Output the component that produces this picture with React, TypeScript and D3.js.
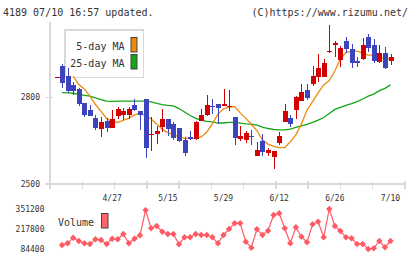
import React from 'react';
import * as d3 from 'd3';

// Daily prices (yen), oldest first
const openP = [2870, 2908, 2874, 2843, 2829, 2779, 2756, 2727, 2690, 2718, 2695, 2735, 2739, 2739, 2773, 2753, 2794, 2670, 2673, 2698, 2725, 2708, 2693, 2652, 2662, 2655, 2719, 2739, 2770, 2777, 2770, 2766, 2733, 2656, 2652, 2666, 2598, 2650, 2606, 2594, 2643, 2716, 2727, 2756, 2788, 2825, 2846, 2869, 2869, 2957, 2981, 2929, 2995, 2966, 2926, 2934, 3008, 2981, 2923, 2952, 2927];
const highP = [2871, 2914, 2902, 2854, 2831, 2779, 2773, 2739, 2733, 2728, 2756, 2767, 2763, 2765, 2794, 2753, 2794, 2733, 2701, 2760, 2725, 2713, 2693, 2662, 2683, 2718, 2760, 2808, 2794, 2777, 2829, 2825, 2733, 2701, 2683, 2687, 2644, 2673, 2624, 2614, 2679, 2777, 2739, 2804, 2846, 2845, 2908, 2950, 2931, 3050, 2996, 2977, 3010, 2984, 2938, 3004, 3019, 3002, 2981, 2973, 2950];
const lowP = [2870, 2833, 2816, 2808, 2771, 2733, 2736, 2687, 2664, 2681, 2693, 2725, 2721, 2725, 2754, 2687, 2591, 2614, 2638, 2681, 2667, 2652, 2644, 2598, 2652, 2652, 2719, 2735, 2742, 2707, 2770, 2754, 2635, 2650, 2641, 2635, 2598, 2598, 2598, 2552, 2635, 2716, 2698, 2725, 2788, 2791, 2840, 2854, 2869, 2952, 2938, 2906, 2952, 2902, 2904, 2929, 2956, 2918, 2918, 2898, 2912];
const closeP = [2871, 2850, 2823, 2823, 2776, 2739, 2736, 2693, 2716, 2693, 2725, 2760, 2754, 2760, 2756, 2739, 2624, 2672, 2683, 2725, 2689, 2658, 2650, 2608, 2655, 2716, 2739, 2773, 2765, 2764, 2777, 2770, 2660, 2666, 2675, 2662, 2618, 2610, 2618, 2614, 2666, 2754, 2707, 2800, 2819, 2799, 2874, 2900, 2918, 2960, 2988, 2971, 2966, 2918, 2919, 2981, 2972, 2927, 2952, 2902, 2938];

// Moving averages (yen)
const ma5 = [null, null, null, 2872, 2844, 2829, 2804, 2775, 2751, 2727, 2715, 2713, 2720, 2728, 2739, 2745, 2737, 2725, 2708, 2689, 2678, 2671, 2663, 2658, 2658, 2658, 2663, 2680, 2708, 2742, 2760, 2766, 2768, 2746, 2728, 2706, 2685, 2652, 2638, 2630, 2626, 2626, 2646, 2670, 2708, 2756, 2785, 2815, 2843, 2858, 2891, 2933, 2955, 2960, 2960, 2953, 2946, 2946, 2939, 2934, 2931];
const ma25 = [null, 2816, 2815, 2814, 2810, 2807, 2804, 2798, 2792, 2787, 2786, 2787, 2787, 2787, 2787, 2787, 2787, 2784, 2779, 2775, 2772, 2770, 2761, 2749, 2737, 2727, 2721, 2717, 2715, 2711, 2711, 2713, 2713, 2711, 2708, 2707, 2704, 2697, 2692, 2689, 2687, 2687, 2690, 2696, 2701, 2706, 2713, 2721, 2730, 2744, 2758, 2765, 2772, 2778, 2785, 2794, 2804, 2811, 2823, 2831, 2843];

// Daily volume (shares)
const volumes = [null, 111000, 122400, 159800, 137800, 122400, 117700, 149100, 144400, 117700, 153100, 149100, 184400, 122400, 153100, 175800, 344000, 222500, 237800, 199800, 184400, 184400, 115700, 162400, 162400, 184400, 177800, 177800, 162400, 122400, 177800, 217800, 255800, 255800, 133100, 93100, 215800, 177800, 206500, 311200, 322500, 222500, 122400, 229100, 166400, 129100, 249100, 266500, 162400, 351200, 237800, 204500, 162400, 155800, 117700, 117700, 84400, 89100, 137800, 95700, 137800];

// Date labels and the trading-day index (1-based) they sit under
const dateLabels = ['4/27', '5/15', '5/29', '6/12', '6/26', '7/10'];
const dateIndex = [11, 21, 31, 41, 51, 61];

const priceTicks = [2500, 2800];

const RED = '#d20000';
const BLUE = '#3b44bd';
const ORANGE = '#f08a0c';
const GREEN = '#16a516';
const VOL = '#ff5a64';
const AXIS = '#d9d9d9';
const TEXT = '#333';
const FONT = '"DejaVu Sans Mono", "Liberation Mono", monospace';

export default function App() {
  const n = closeP.length;
  const idx = d3.range(1, n + 1);

  const x = d3.scaleLinear().domain([1, n]).range([56.5, 390.5]);
  const y = d3.scaleLinear().domain([2500, 2800]).range([184, 97.3]);
  const vExt = d3.extent(volumes.filter((v) => v != null) as number[]) as [number, number];
  const vy = d3.scaleLinear().domain(vExt).range([249, 209]);
  const frame = d3.scaleLinear().domain([0, 11]).range([50, 405]);

  const maLine = d3
    .line<number | null>()
    .defined((d) => d != null)
    .x((_, i) => x(i + 1))
    .y((d) => y(d as number));

  const volLine = d3
    .line<number | null>()
    .defined((d) => d != null)
    .x((_, i) => x(i + 1))
    .y((d) => vy(d as number));

  const volTicks = [vExt[0], (vExt[0] + vExt[1]) / 2, vExt[1]];

  return (
    <svg
      width={420}
      height={259}
      style={{ position: 'absolute', left: 0, top: 0, background: '#fff' }}
      fontFamily={FONT}
    >
      <rect x={0} y={0} width={420} height={259} fill="#fff" />

      {/* header */}
      <text x={3} y={16} fontSize={10} fill={TEXT}>4189 07/10 16:57 updated.</text>
      <text x={408} y={16} fontSize={10} fill={TEXT} textAnchor="end">(C)https://www.rizumu.net/</text>

      {/* frame */}
      <g stroke={AXIS} strokeWidth={1.5} shapeRendering="crispEdges">
        <line x1={50} x2={50} y1={22} y2={184} />
        <line x1={50} x2={405} y1={184} y2={184} />
        {d3.range(12).map((k) => (
          <line key={k} x1={frame(k)} x2={frame(k)} y1={181} y2={189} />
        ))}
        {priceTicks.map((p) => (
          <line key={p} x1={45} x2={53} y1={y(p)} y2={y(p)} />
        ))}
      </g>
      {priceTicks.map((p) => (
        <text key={p} x={40} y={y(p)} dy="0.35em" fontSize={8} fill={TEXT} textAnchor="end">
          {p}
        </text>
      ))}
      {dateLabels.map((d, i) => (
        <text key={d} x={x(dateIndex[i])} y={201} fontSize={8} fill={TEXT} textAnchor="middle">
          {d}
        </text>
      ))}

      {/* MA legend box */}
      <rect x={65} y={30} width={78.3} height={47.3} fill="#fff" stroke={AXIS} strokeWidth={1.5} shapeRendering="crispEdges" />
      <text x={124.5} y={46} dy="0.35em" fontSize={10} fill={TEXT} textAnchor="end">5-day MA</text>
      <text x={124.5} y={63} dy="0.35em" fontSize={10} fill={TEXT} textAnchor="end">25-day MA</text>
      <rect x={131} y={37.5} width={6} height={14.5} fill={ORANGE} stroke="#444" strokeWidth={1} />
      <rect x={131} y={54.5} width={6} height={14.5} fill={GREEN} stroke="#444" strokeWidth={1} />

      {/* moving averages */}
      <path d={maLine(ma25) || ''} fill="none" stroke={GREEN} strokeWidth={1.3} />
      <path d={maLine(ma5) || ''} fill="none" stroke={ORANGE} strokeWidth={1.3} />

      {/* candles */}
      <g shapeRendering="crispEdges">
        {idx.map((i) => {
          const o = openP[i - 1];
          const c = closeP[i - 1];
          const col = c >= o ? RED : BLUE;
          const top = y(Math.max(o, c));
          const bot = y(Math.min(o, c));
          const cx = Math.round(x(i));
          return (
            <g key={i}>
              <line x1={cx + 0.5} x2={cx + 0.5} y1={y(highP[i - 1])} y2={y(lowP[i - 1])} stroke={col} strokeWidth={1} />
              <rect x={cx - 2} y={top} width={5} height={Math.max(1, bot - top)} fill={col} />
            </g>
          );
        })}
      </g>

      {/* volume */}
      {volTicks.map((v) => (
        <text key={v} x={44.5} y={vy(v)} dy="0.35em" fontSize={8} fill={TEXT} textAnchor="end">
          {Math.round(v)}
        </text>
      ))}
      <text x={58} y={222} dy="0.35em" fontSize={10} fill={TEXT}>Volume</text>
      <rect x={101.5} y={213.5} width={6.5} height={14.5} fill="#ff6468" stroke="#444" strokeWidth={1} />
      <path d={volLine(volumes) || ''} fill="none" stroke={VOL} strokeWidth={1.2} />
      {idx.map((i) =>
        volumes[i - 1] == null ? null : (
          <path
            key={i}
            transform={`translate(${x(i)},${vy(volumes[i - 1] as number)})`}
            d="M0,-3.2L3.2,0L0,3.2L-3.2,0Z"
            fill={VOL}
          />
        )
      )}
    </svg>
  );
}
